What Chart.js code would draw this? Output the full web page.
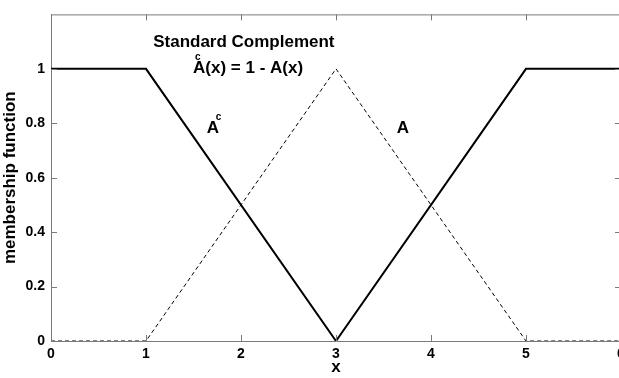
<!DOCTYPE html>
<html>
<head>
<meta charset="utf-8">
<script src="https://cdn.jsdelivr.net/npm/chart.js@4/dist/chart.umd.min.js"></script>
<style>
  html, body { margin: 0; padding: 0; background: #fff; overflow: hidden; }
  #wrap { width: 640px; height: 378px; }
</style>
</head>
<body>
<div id="wrap"><canvas id="complement"></canvas></div>
<script>
const xValues = [0, 1, 3, 5, 6];
const setA = [0, 0, 1, 0, 0];            // triangular set A
const setAc = [1, 1, 0, 1, 1];           // its standard complement
const xTicks = [0, 1, 2, 3, 4, 5, 6];
const yTicks = [0, 0.2, 0.4, 0.6, 0.8, 1];

const AXIS_GREY = '#7a7a7a';
const FONT = 'Liberation Sans, Arial, sans-serif';

const toPoints = (ys) => xValues.map((x, i) => ({ x: x, y: ys[i] }));

// inward tick marks on all four sides plus the top/right frame
const frameTicks = {
    id: 'frameTicks',
    afterDraw(chart) {
        const { ctx, chartArea: a, scales } = chart;
        ctx.save();
        ctx.strokeStyle = AXIS_GREY;
        ctx.lineWidth = 1;
        ctx.beginPath();
        ctx.moveTo(a.left, a.top + 0.5);
        ctx.lineTo(a.right, a.top + 0.5);
        ctx.moveTo(a.right - 0.5, a.top);
        ctx.lineTo(a.right - 0.5, a.bottom);
        for (const t of xTicks) {
            const px = Math.round(scales.x.getPixelForValue(t)) + 0.5;
            ctx.moveTo(px, a.bottom);
            ctx.lineTo(px, a.bottom - 6);
            ctx.moveTo(px, a.top);
            ctx.lineTo(px, a.top + 6);
        }
        for (const t of yTicks) {
            const py = Math.round(scales.y.getPixelForValue(t)) + 0.5;
            ctx.moveTo(a.left, py);
            ctx.lineTo(a.left + 6, py);
            ctx.moveTo(a.right, py);
            ctx.lineTo(a.right - 6, py);
        }
        ctx.stroke();
        ctx.restore();
    }
};

// draws "A" with a small "c" raised over it, returns width of the A
function drawAc(ctx, x, y, cdx, cdy) {
    ctx.font = 'bold 17px ' + FONT;
    ctx.fillText('A', x, y);
    const w = ctx.measureText('A').width;
    ctx.font = 'bold 10px ' + FONT;
    ctx.fillText('c', x + cdx, y - cdy);
    return w;
}

// text labels placed in data coordinates
const captions = {
    id: 'captions',
    afterDatasetsDraw(chart) {
        const { ctx, scales } = chart;
        const px = (v) => scales.x.getPixelForValue(v);
        const py = (v) => scales.y.getPixelForValue(v);
        ctx.save();
        ctx.fillStyle = '#000';
        ctx.textBaseline = 'alphabetic';

        ctx.font = 'bold 17px ' + FONT;
        ctx.textAlign = 'center';
        ctx.fillText('Standard Complement', px(2.03), py(1.08));

        ctx.textAlign = 'left';
        const x0 = px(1.495);
        const yb = py(0.986);
        const wA = drawAc(ctx, x0, yb, 2, 13);
        ctx.font = 'bold 17px ' + FONT;
        ctx.fillText('(x) = 1 - A(x)', x0 + wA, yb);

        drawAc(ctx, px(1.64), py(0.765), 9, 13);

        ctx.font = 'bold 17px ' + FONT;
        ctx.fillText('A', px(3.64), py(0.765));
        ctx.restore();
    }
};

new Chart(document.getElementById('complement'), {
    type: 'line',
    data: {
        datasets: [{
            label: 'A',
            data: toPoints(setA),
            borderColor: '#000',
            borderWidth: 1,
            borderDash: [4, 3],
            pointRadius: 0,
            tension: 0
        }, {
            label: 'Ac',
            data: toPoints(setAc),
            borderColor: '#000',
            borderWidth: 2,
            pointRadius: 0,
            tension: 0
        }]
    },
    options: {
        responsive: true,
        maintainAspectRatio: false,
        animation: false,
        layout: { padding: { top: 8, right: 19, left: 0, bottom: 0 } },
        plugins: { legend: { display: false }, tooltip: { enabled: false } },
        scales: {
            x: {
                type: 'linear',
                min: 0,
                max: 6,
                afterBuildTicks: (s) => { s.ticks = xTicks.map(v => ({ value: v })); },
                afterFit: (s) => { s.height = 37; },
                grid: { display: false, drawTicks: false },
                border: { display: true, color: AXIS_GREY, width: 1 },
                ticks: {
                    color: '#000',
                    padding: 5,
                    font: { family: FONT, size: 14, weight: 'bold' },
                    maxRotation: 0
                },
                title: {
                    display: true,
                    text: 'x',
                    color: '#000',
                    padding: { top: 0, bottom: 0 },
                    font: { family: FONT, size: 17, weight: 'bold' }
                }
            },
            y: {
                min: 0,
                max: 1.2,
                afterBuildTicks: (s) => { s.ticks = yTicks.map(v => ({ value: v })); },
                afterFit: (s) => { s.width = 51; },
                grid: { display: false, drawTicks: false },
                border: { display: true, color: AXIS_GREY, width: 1 },
                ticks: {
                    color: '#000',
                    padding: 6,
                    font: { family: FONT, size: 14, weight: 'bold' },
                    callback: (v) => String(Math.round(v * 10) / 10)
                },
                title: {
                    display: true,
                    text: 'membership function',
                    color: '#000',
                    padding: { top: 0, bottom: 1 },
                    font: { family: FONT, size: 17, weight: 'bold' }
                }
            }
        }
    },
    plugins: [frameTicks, captions]
});
</script>
</body>
</html>
